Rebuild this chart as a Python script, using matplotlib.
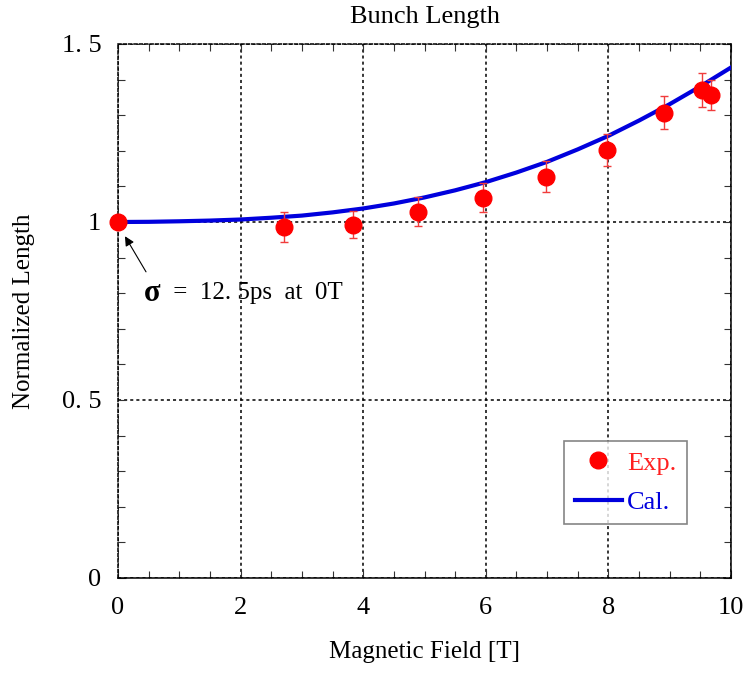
import numpy as np
import matplotlib
matplotlib.use('Agg')
import matplotlib.pyplot as plt
from matplotlib.ticker import MultipleLocator

plt.rcParams['font.family'] = ['Liberation Serif', 'DejaVu Serif']

# measured bunch length vs field
field_exp = [0.0, 2.71, 3.83, 4.90, 5.95, 6.98, 7.98, 8.91, 9.53, 9.68]
length_exp = [1.000, 0.987, 0.992, 1.029, 1.068, 1.127, 1.202, 1.307, 1.371, 1.357]
length_err = [0.0, 0.042, 0.038, 0.041, 0.041, 0.044, 0.045, 0.047, 0.048, 0.042]

# calculated curve
field_cal = [0.0, 0.5, 1.0, 1.5, 2.0, 2.5, 3.0, 3.5, 4.0, 4.5, 5.0,
             5.5, 6.0, 6.5, 7.0, 7.5, 8.0, 8.5, 9.0, 9.5, 10.0]
length_cal = [1.000, 1.0005, 1.002, 1.004, 1.007, 1.012, 1.018, 1.027, 1.038, 1.052, 1.069,
              1.089, 1.112, 1.139, 1.169, 1.204, 1.242, 1.285, 1.331, 1.381, 1.434]

W, H = 751, 675
fig = plt.figure(figsize=(W / 100, H / 100), dpi=100)
ax = fig.add_axes([118 / W, 1 - 578 / H, 613 / W, 534 / H])

ax.plot(field_cal, length_cal, color='#0000dd', lw=3, label='Cal.', zorder=3)
ax.errorbar(field_exp, length_exp, yerr=length_err, fmt='none', ecolor='#f03c3c',
            elinewidth=1, capsize=3, capthick=1, zorder=4)
ax.plot(field_exp, length_exp, 'o', color='#ff0000', ms=12, mec='#ff0000',
        label='Exp.', zorder=5, clip_on=False)

ax.set_xlim(0, 10)
ax.set_ylim(0, 1.5)
ax.xaxis.set_major_locator(MultipleLocator(2))
ax.xaxis.set_minor_locator(MultipleLocator(0.5))
ax.yaxis.set_minor_locator(MultipleLocator(0.1))
ax.set_yticks([0, 0.5, 1.0, 1.5])
ax.set_yticklabels(['0', '0. 5', '1', '1. 5'])
ax.tick_params(which='both', direction='in', top=True, right=True, labelsize=19, color='#333333')
ax.tick_params(which='major', length=6, width=0.8)
ax.tick_params(which='minor', length=5, width=0.8)
ax.tick_params(axis='x', which='major', pad=14)
ax.tick_params(axis='y', which='major', pad=12)

ax.grid(True, which='major', color='black', linestyle=(0, (2, 2)), linewidth=1.1)
for side in ['top', 'left']:
    ax.spines[side].set_linestyle((0, (2, 1.5)))
for side in ax.spines:
    ax.spines[side].set_linewidth(1.1)

ax.set_xlabel('Magnetic Field [T]', fontsize=18)
ax.xaxis.set_label_coords(0.5, (578 - 652) / 534)
ax.xaxis.label.set_va('center')
ax.set_ylabel('Normalized Length', fontsize=18)
ax.yaxis.set_label_coords((24 - 118) / 613, 0.5)
ax.yaxis.label.set_va('center')
fig.text(424.5 / W, 1 - 17 / H, 'Bunch Length', fontsize=19, ha='center', va='center')

# note on the first point
ax.annotate('', xy=(0.114, 0.96), xytext=(0.457, 0.86),
            arrowprops=dict(arrowstyle='-|>', color='black', lw=0.8, shrinkA=0, shrinkB=0,
                            mutation_scale=14))
ax.text(0.43, 0.80, 'σ', fontsize=22, fontweight='bold', va='center', ha='left')
ax.text(0.80, 0.80, ' =  12. 5ps  at  0T', fontsize=18, va='center', ha='left')

handles, labels = ax.get_legend_handles_labels()
leg = ax.legend(handles[::-1], labels[::-1], loc='upper left',
                bbox_to_anchor=(564 / W, 1 - 440.5 / H), bbox_transform=fig.transFigure,
                borderaxespad=0, fontsize=19, frameon=True, fancybox=False,
                edgecolor='#666666', borderpad=0.4, handlelength=1.8, handletextpad=0.2,
                labelspacing=0.6)
leg.get_frame().set_linewidth(1.2)
for txt, c in zip(leg.get_texts(), ['#ff2020', '#0000dd']):
    txt.set_color(c)

fig.savefig('out.png', dpi=100)
